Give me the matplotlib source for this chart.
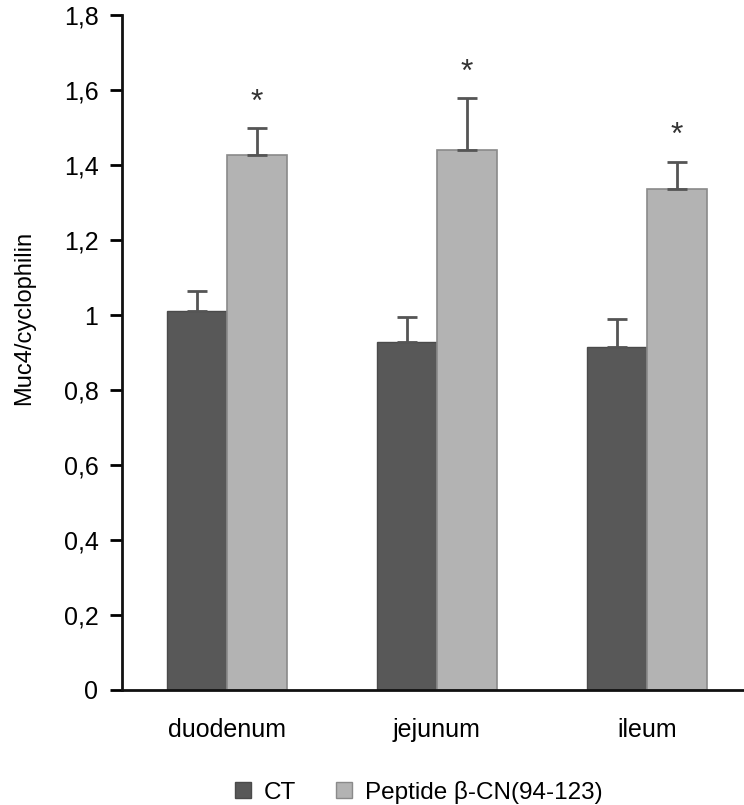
import numpy as np
import matplotlib
matplotlib.use("Agg")
from matplotlib import pyplot as plt
from matplotlib.lines import Line2D

plt.rcParams["font.family"] = ["Liberation Sans", "DejaVu Sans"]

categories = ["duodenum", "jejunum", "ileum"]
ct_values = [1.01, 0.928, 0.915]
ct_errors = [0.055, 0.068, 0.074]
peptide_values = [1.428, 1.44, 1.336]
peptide_errors = [0.071, 0.14, 0.073]
star_heights = [1.565, 1.645, 1.477]
yticks = [0, 0.2, 0.4, 0.6, 0.8, 1.0, 1.2, 1.4, 1.6, 1.8]
ytick_labels = ["0", "0,2", "0,4", "0,6", "0,8", "1", "1,2", "1,4", "1,6", "1,8"]

CT_COLOR = "#585858"
PEP_COLOR = "#b3b3b3"

fig = plt.figure(figsize=(7.44, 8.05), dpi=100)
ax = fig.add_axes([0.164, 0.143, 0.836, 0.838])

x = np.arange(len(categories))
w = 0.286
ax.bar(x - w / 2, ct_values, w, color=CT_COLOR, edgecolor="#4a4a4a", linewidth=1.0, zorder=2)
ax.bar(x + w / 2, peptide_values, w, color=PEP_COLOR, edgecolor="#8a8a8a", linewidth=1.2, zorder=2)

# upward-only error bars
ax.errorbar(x - w / 2, ct_values, yerr=[np.zeros(3), ct_errors], fmt="none",
            ecolor="#555555", elinewidth=2, capsize=7, capthick=2, zorder=3)
ax.errorbar(x + w / 2, peptide_values, yerr=[np.zeros(3), peptide_errors], fmt="none",
            ecolor="#555555", elinewidth=2, capsize=7, capthick=2, zorder=3)

for xi, h in zip(x, star_heights):
    ax.text(xi + w / 2, h, "*", ha="center", va="center", fontsize=23, color="#333333")

ax.set_xlim(-0.5, 2.462)
ax.set_ylim(0, 1.8)
ax.set_yticks(yticks)
ax.set_yticklabels(ytick_labels, fontsize=18)
ax.set_xticks(x)
ax.set_xticklabels(categories, fontsize=18)
ax.tick_params(axis="x", length=0, pad=20)
ax.tick_params(axis="y", length=9, width=2, pad=8, direction="out")
ax.set_ylabel("Muc4/cyclophilin", fontsize=17)
ax.yaxis.set_label_coords(-0.14, 0.551)

for side in ["top", "right"]:
    ax.spines[side].set_visible(False)
for side in ["left", "bottom"]:
    ax.spines[side].set_linewidth(2)
    ax.spines[side].set_color("#111111")

handles = [
    Line2D([], [], marker="s", linestyle="none", markersize=11,
           markerfacecolor=CT_COLOR, markeredgecolor="#4a4a4a"),
    Line2D([], [], marker="s", linestyle="none", markersize=11,
           markerfacecolor=PEP_COLOR, markeredgecolor="#8a8a8a"),
]
fig.legend(handles, ["CT", "Peptide β-CN(94-123)"], loc="center", ncol=2,
           bbox_to_anchor=(0.560, 0.016), frameon=False, fontsize=17.5,
           handletextpad=0.35, columnspacing=1.5, handlelength=1.0)

fig.savefig("out.png", dpi=100)
